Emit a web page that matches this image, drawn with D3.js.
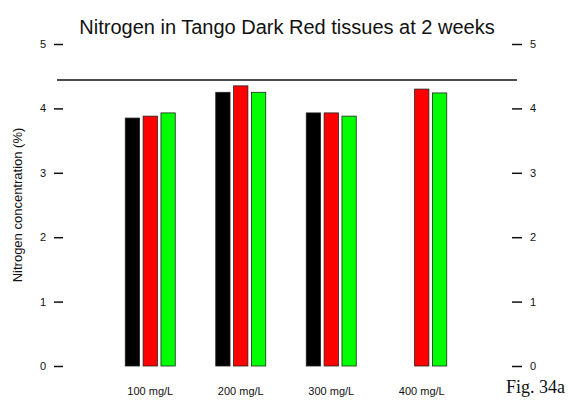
<!DOCTYPE html>
<html>
<head>
<meta charset="utf-8">
<script src="https://cdn.jsdelivr.net/npm/d3@7/dist/d3.min.js"></script>
<style>
  html, body { margin: 0; padding: 0; background: #fff; }
  svg { display: block; }
</style>
</head>
<body>
<svg id="chart" width="571" height="404"></svg>
<script>
// Treatments along the x axis
const categories = ["100 mg/L", "200 mg/L", "300 mg/L", "400 mg/L"];
// Tissue series (black, red, green bars)
const seriesNames = ["Leaves", "Stems", "Roots"];
const seriesColors = ["#000000", "#ff0000", "#00ff00"];
// Nitrogen concentration (%) per treatment, one array per series
const leavesN = [3.85, 4.25, 3.93, null];
const stemsN  = [3.88, 4.35, 3.93, 4.30];
const rootsN  = [3.93, 4.25, 3.88, 4.24];
// Sufficiency reference level (%)
const referenceN = 4.44;
// Axis ticks
const yTicks = [0, 1, 2, 3, 4, 5];
const yTickLabels = ["0", "1", "2", "3", "4", "5"];

const seriesValues = [leavesN, stemsN, rootsN];

const svg = d3.select("#chart");
const plotLeft = 63, plotRight = 512, plotTop = 44, plotBottom = 366;

const x = d3.scaleBand().domain(categories).range([105, 467]).padding(0);
const xs = d3.scaleBand().domain(seriesNames).range([-25, 25]).paddingInner(0.2).paddingOuter(0);
const y = d3.scaleLinear().domain([0, 5]).range([plotBottom, plotTop]);

// Title
svg.append("text")
  .attr("x", 287).attr("y", 34)
  .attr("text-anchor", "middle")
  .attr("font-family", "Liberation Sans, Arial, sans-serif")
  .attr("font-size", 20)
  .attr("fill", "#111")
  .text("Nitrogen in Tango Dark Red tissues at 2 weeks");

// Y axis title
svg.append("text")
  .attr("transform", `translate(22,205) rotate(-90)`)
  .attr("text-anchor", "middle")
  .attr("font-family", "Liberation Sans, Arial, sans-serif")
  .attr("font-size", 13)
  .attr("fill", "#111")
  .text("Nitrogen concentration (%)");

// Left axis
const yAxisL = d3.axisLeft(y).tickValues(yTicks)
  .tickFormat((d, i) => yTickLabels[i]).tickSize(9).tickPadding(8);
const gL = svg.append("g").attr("transform", `translate(${plotLeft},0)`).call(yAxisL);
// Right axis
const yAxisR = d3.axisRight(y).tickValues(yTicks)
  .tickFormat((d, i) => yTickLabels[i]).tickSize(10).tickPadding(8);
const gR = svg.append("g").attr("transform", `translate(${plotRight},0)`).call(yAxisR);

[gL, gR].forEach(g => {
  g.select(".domain").remove();
  g.selectAll(".tick line").attr("stroke", "#111").attr("stroke-width", 1.5);
  g.selectAll(".tick text")
    .attr("font-family", "Liberation Sans, Arial, sans-serif")
    .attr("font-size", 11).attr("fill", "#111");
});

// Reference line
svg.append("line")
  .attr("x1", plotLeft - 6).attr("x2", plotRight + 5)
  .attr("y1", y(referenceN)).attr("y2", y(referenceN))
  .attr("stroke", "#111").attr("stroke-width", 1.6);

// Bars
const groups = svg.append("g").selectAll("g")
  .data(categories).join("g")
  .attr("transform", d => `translate(${x(d) + x.bandwidth() / 2},0)`);

groups.selectAll("rect")
  .data((c, ci) => seriesNames.map((s, si) => ({ s, si, v: seriesValues[si][ci] }))
    .filter(d => d.v != null))
  .join("rect")
  .attr("x", d => xs(d.s))
  .attr("width", xs.bandwidth())
  .attr("y", d => y(d.v))
  .attr("height", d => y(0) - y(d.v))
  .attr("fill", d => seriesColors[d.si])
  .attr("stroke", "#222")
  .attr("stroke-width", 0.8);

// Category labels
svg.append("g").selectAll("text")
  .data(categories).join("text")
  .attr("x", d => x(d) + x.bandwidth() / 2)
  .attr("y", 395)
  .attr("text-anchor", "middle")
  .attr("font-family", "Liberation Sans, Arial, sans-serif")
  .attr("font-size", 11)
  .attr("fill", "#111")
  .text(d => d);

// Figure tag
svg.append("text")
  .attr("x", 506).attr("y", 393)
  .attr("font-family", "Liberation Serif, Times New Roman, serif")
  .attr("font-size", 18)
  .attr("fill", "#111")
  .text("Fig. 34a");
</script>
</body>
</html>
